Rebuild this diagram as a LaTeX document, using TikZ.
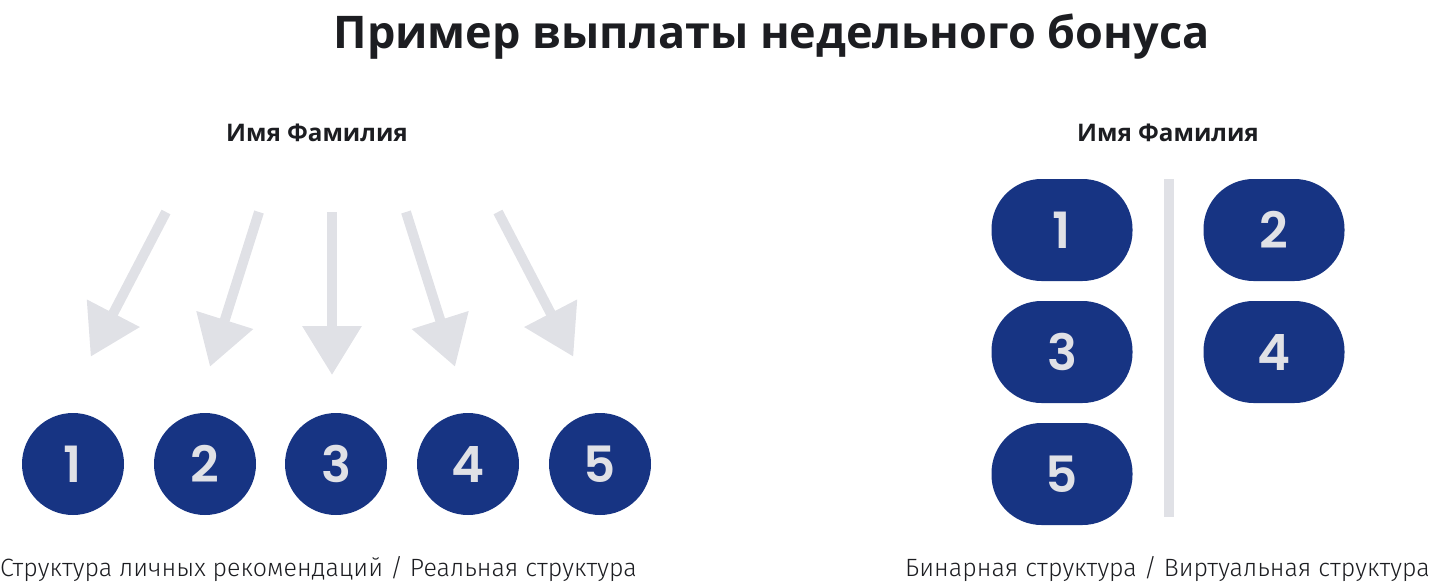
\documentclass[tikz,border=0pt]{standalone}
\usepackage{fontspec}
\usetikzlibrary{arrows.meta}
\setmainfont{Open Sans}
\newfontfamily\numfont{Poppins}[UprightFont=* SemiBold]
\newfontfamily\capfont{Fira Sans}[UprightFont=* Light]
\definecolor{navy}{HTML}{173483}
\definecolor{lgray}{HTML}{E0E1E6}
\definecolor{ink}{HTML}{1C1D21}
\tikzset{
  arr/.style={draw=lgray, line width=10pt, -{Triangle[length=49pt,width=57pt]}},
  circ/.style={circle, fill=navy, minimum size=102pt, inner sep=0pt, text=lgray, font=\numfont\fontsize{50}{50}\selectfont},
  pill/.style={rectangle, rounded corners=50pt, fill=navy, minimum width=141pt, minimum height=102pt, inner sep=0pt, text=lgray, font=\numfont\fontsize{50}{50}\selectfont},
  ttl/.style={text=ink, font=\bfseries\fontsize{45}{45}\selectfont, anchor=base, inner sep=0pt},
  nm/.style={text=ink, font=\bfseries\fontsize{24.2}{24}\selectfont, anchor=base, inner sep=0pt},
  captxt/.style={text=ink, font=\capfont\fontsize{25}{25}\selectfont, anchor=base west, inner sep=0pt}
}
\begin{document}
\begin{tikzpicture}[x=1pt,y=-1pt]
\useasboundingbox (0,0) rectangle (1432,583);
\node[ttl] (title) at (771.5,49) {Пример выплаты недельного бонуса};
\node[nm] (nameL) at (317,142) {Имя Фамилия};
\node[nm] (nameR) at (1168,142) {Имя Фамилия};
% left structure
\foreach \i/\x in {1/73,2/205,3/336,4/468,5/600}{
  \node[circ] (c\i) at (\x,464) {\i};
}
\coordinate (t1) at (166,212); \coordinate (h1) at (90.7,356.7);
\coordinate (t2) at (259,212); \coordinate (h2) at (210,366.7);
\coordinate (t3) at (332,212); \coordinate (h3) at (332,375);
\coordinate (t4) at (406,212); \coordinate (h4) at (455,366.7);
\coordinate (t5) at (498,212); \coordinate (h5) at (573.3,356.7);
\foreach \i in {1,...,5}{ \draw[arr] (t\i) -- (h\i); }
% right structure
\node[pill] (p1) at (1062,230) {1};
\node[pill] (p2) at (1274,230) {2};
\node[pill] (p3) at (1062,352) {3};
\node[pill] (p4) at (1274,352) {4};
\node[pill] (p5) at (1062,474) {5};
\coordinate (dtop) at (1169,179); \coordinate (dbot) at (1169,517);
\draw[lgray, line width=10pt] (dtop) -- (dbot);
\node[captxt] (capL) at (0,576) {Структура личных рекомендаций / Реальная структура};
\node[captxt] (capR) at (905,576) {Бинарная структура / Виртуальная структура};
\end{tikzpicture}
\end{document}
